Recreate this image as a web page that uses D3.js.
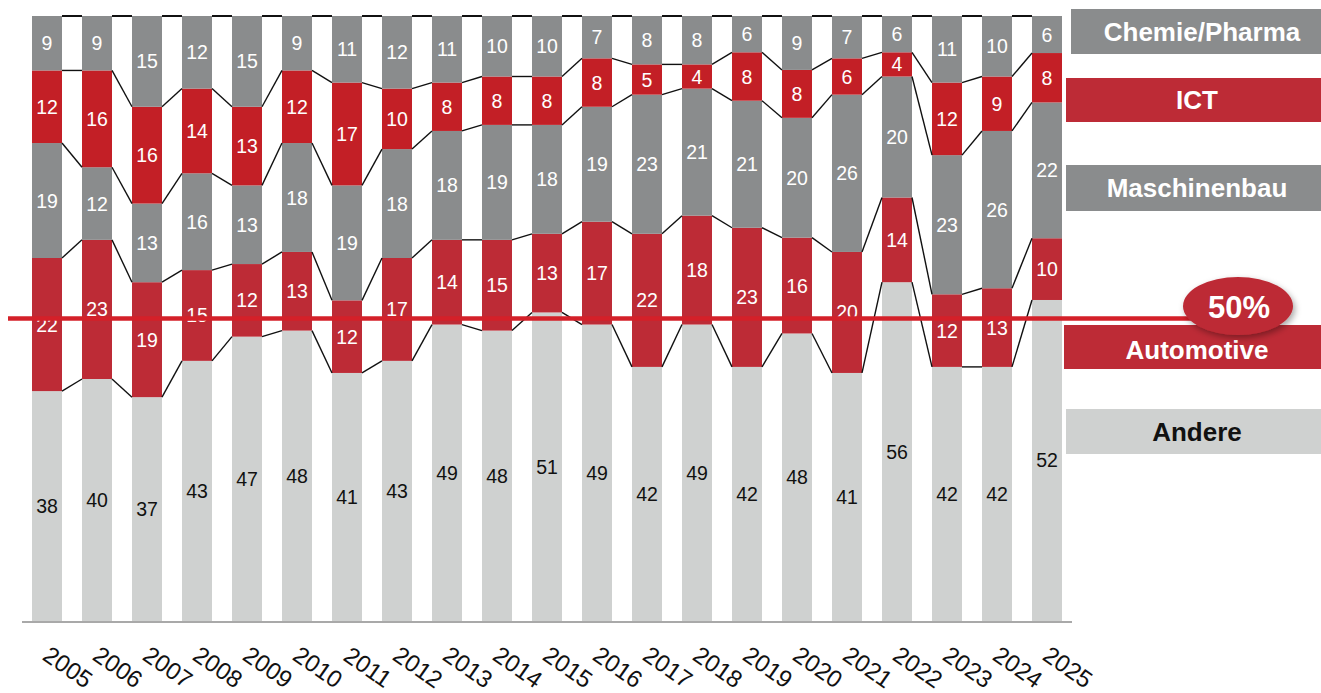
<!DOCTYPE html>
<html>
<head>
<meta charset="utf-8">
<script src="https://cdn.jsdelivr.net/npm/d3@7"></script>
<style>
  body { margin: 0; background: #fff; }
  svg { display: block; font-family: Arial, 'Liberation Sans', sans-serif; }
</style>
</head>
<body>
<div id="chart"></div>
<script>
// Data (share in %)
const years = ['2005', '2006', '2007', '2008', '2009', '2010', '2011', '2012', '2013', '2014',
  '2015', '2016', '2017', '2018', '2019', '2020', '2021', '2022', '2023', '2024', '2025']
const andere = [38, 40, 37, 43, 47, 48, 41, 43, 49, 48, 51, 49, 42, 49, 42, 48, 41, 56, 42, 42, 52]
const automotive = [22, 23, 19, 15, 12, 13, 12, 17, 14, 15, 13, 17, 22, 18, 23, 16, 20, 14, 12, 13, 10]
const maschinenbau = [19, 12, 13, 16, 13, 18, 19, 18, 18, 19, 18, 19, 23, 21, 21, 20, 26, 20, 23, 26, 22]
const ict = [12, 16, 16, 14, 13, 12, 17, 10, 8, 8, 8, 8, 5, 4, 8, 8, 6, 4, 12, 9, 8]
const chemie = [9, 9, 15, 12, 15, 9, 11, 12, 11, 10, 10, 7, 8, 8, 6, 9, 7, 6, 11, 10, 6]
const sectors = ['Andere', 'Automotive', 'Maschinenbau', 'ICT', 'Chemie/Pharma']
const refLine = 0.5
const refLabel = '50%'

const series = [andere, automotive, maschinenbau, ict, chemie]
const table = years.map((y, i) => {
  const row = { year: y }
  sectors.forEach((s, k) => { row[s] = series[k][i] })
  return row
})

const barColor = {
  'Andere': '#cfd1d0',
  'Automotive': '#bd2b36',
  'Maschinenbau': '#8a8c8d',
  'ICT': '#c31f26',
  'Chemie/Pharma': '#8a8c8d'
}
const legendColor = {
  'Andere': '#cfd1d0',
  'Automotive': '#bd2b36',
  'Maschinenbau': '#8a8c8d',
  'ICT': '#bd2b36',
  'Chemie/Pharma': '#8a8c8d'
}
const textColor = s => (s === 'Andere' ? '#111' : '#fff')

const width = 1321
const height = 693

const svg = d3.select('#chart')
  .append('svg')
  .attr('width', width)
  .attr('height', height)

const xPositionScale = d3.scaleBand()
  .domain(years)
  .range([22, 1072])
  .paddingInner(0.4)
  .paddingOuter(0.2)

const yPositionScale = d3.scaleLinear()
  .domain([0, 1])
  .range([621, 16])

const stacked = d3.stack()
  .keys(sectors)
  .offset(d3.stackOffsetExpand)(table)

const bw = xPositionScale.bandwidth()

// bars
const layers = svg.append('g')
  .selectAll('g')
  .data(stacked)
  .enter()
  .append('g')
  .attr('fill', d => barColor[d.key])

layers.selectAll('rect')
  .data(d => d)
  .enter()
  .append('rect')
  .attr('x', d => xPositionScale(d.data.year))
  .attr('y', d => yPositionScale(d[1]))
  .attr('width', bw)
  .attr('height', d => yPositionScale(d[0]) - yPositionScale(d[1]))

// connector lines between bars at each segment top
stacked.forEach((layer, k) => {
  const segs = d3.pairs(layer)
  svg.append('g')
    .selectAll('line')
    .data(segs)
    .enter()
    .append('line')
    .attr('x1', d => xPositionScale(d[0].data.year) + bw)
    .attr('y1', d => yPositionScale(d[0][1]))
    .attr('x2', d => xPositionScale(d[1].data.year))
    .attr('y2', d => yPositionScale(d[1][1]))
    .attr('stroke', '#111')
    .attr('stroke-width', k === stacked.length - 1 ? 2 : 1.4)
})

// value labels
stacked.forEach(layer => {
  svg.append('g')
    .selectAll('text')
    .data(layer)
    .enter()
    .append('text')
    .attr('x', d => xPositionScale(d.data.year) + bw / 2)
    .attr('y', d => (yPositionScale(d[0]) + yPositionScale(d[1])) / 2)
    .attr('text-anchor', 'middle')
    .attr('dominant-baseline', 'central')
    .attr('font-size', 19.5)
    .attr('fill', textColor(layer.key))
    .text(d => d.data[layer.key])
})

// baseline
svg.append('line')
  .attr('x1', 22)
  .attr('x2', 1072)
  .attr('y1', 622)
  .attr('y2', 622)
  .attr('stroke', '#555')
  .attr('stroke-width', 1.2)

// year labels
svg.append('g')
  .selectAll('text')
  .data(years)
  .enter()
  .append('text')
  .attr('transform', d => 'translate(' + (xPositionScale(d) + bw / 2 + 21) + ',667) rotate(35)')
  .attr('text-anchor', 'middle')
  .attr('dominant-baseline', 'central')
  .attr('font-size', 24)
  .attr('fill', '#111')
  .text(d => d)

// legend boxes on the right
const legendLayout = {
  'Chemie/Pharma': { x: 1071, y: 9, h: 45, tx: 1202 },
  'ICT': { x: 1066, y: 78, h: 44, tx: 1197 },
  'Maschinenbau': { x: 1066, y: 165, h: 46, tx: 1197 },
  'Automotive': { x: 1064, y: 325, h: 44, tx: 1197 },
  'Andere': { x: 1066, y: 409, h: 45, tx: 1197 }
}
const legend = svg.append('g')
  .selectAll('g')
  .data(sectors)
  .enter()
  .append('g')

legend.append('rect')
  .attr('x', d => legendLayout[d].x)
  .attr('y', d => legendLayout[d].y)
  .attr('width', d => width - legendLayout[d].x)
  .attr('height', d => legendLayout[d].h)
  .attr('fill', d => legendColor[d])

legend.append('text')
  .attr('x', d => legendLayout[d].tx)
  .attr('y', d => legendLayout[d].y + legendLayout[d].h / 2 + (d === 'Automotive' ? 3 : 0))
  .attr('text-anchor', 'middle')
  .attr('dominant-baseline', 'central')
  .attr('font-size', 26)
  .attr('font-weight', 'bold')
  .attr('fill', d => textColor(d))
  .text(d => d)

// 50% reference line and bubble
const defs = svg.append('defs')
const shadow = defs.append('filter')
  .attr('id', 'shadow')
  .attr('x', '-30%').attr('y', '-30%')
  .attr('width', '160%').attr('height', '160%')
shadow.append('feDropShadow')
  .attr('dx', 2).attr('dy', 3)
  .attr('stdDeviation', 3)
  .attr('flood-color', '#000')
  .attr('flood-opacity', 0.35)

svg.append('line')
  .attr('x1', 8)
  .attr('x2', 1200)
  .attr('y1', yPositionScale(refLine))
  .attr('y2', yPositionScale(refLine))
  .attr('stroke', '#d42029')
  .attr('stroke-width', 4.5)

svg.append('ellipse')
  .attr('cx', 1238)
  .attr('cy', 306)
  .attr('rx', 55)
  .attr('ry', 29)
  .attr('fill', '#bd2b36')
  .attr('filter', 'url(#shadow)')

svg.append('text')
  .attr('x', 1239)
  .attr('y', 307)
  .attr('text-anchor', 'middle')
  .attr('dominant-baseline', 'central')
  .attr('font-size', 31)
  .attr('font-weight', 'bold')
  .attr('fill', '#fff')
  .text(refLabel)
</script>
</body>
</html>
